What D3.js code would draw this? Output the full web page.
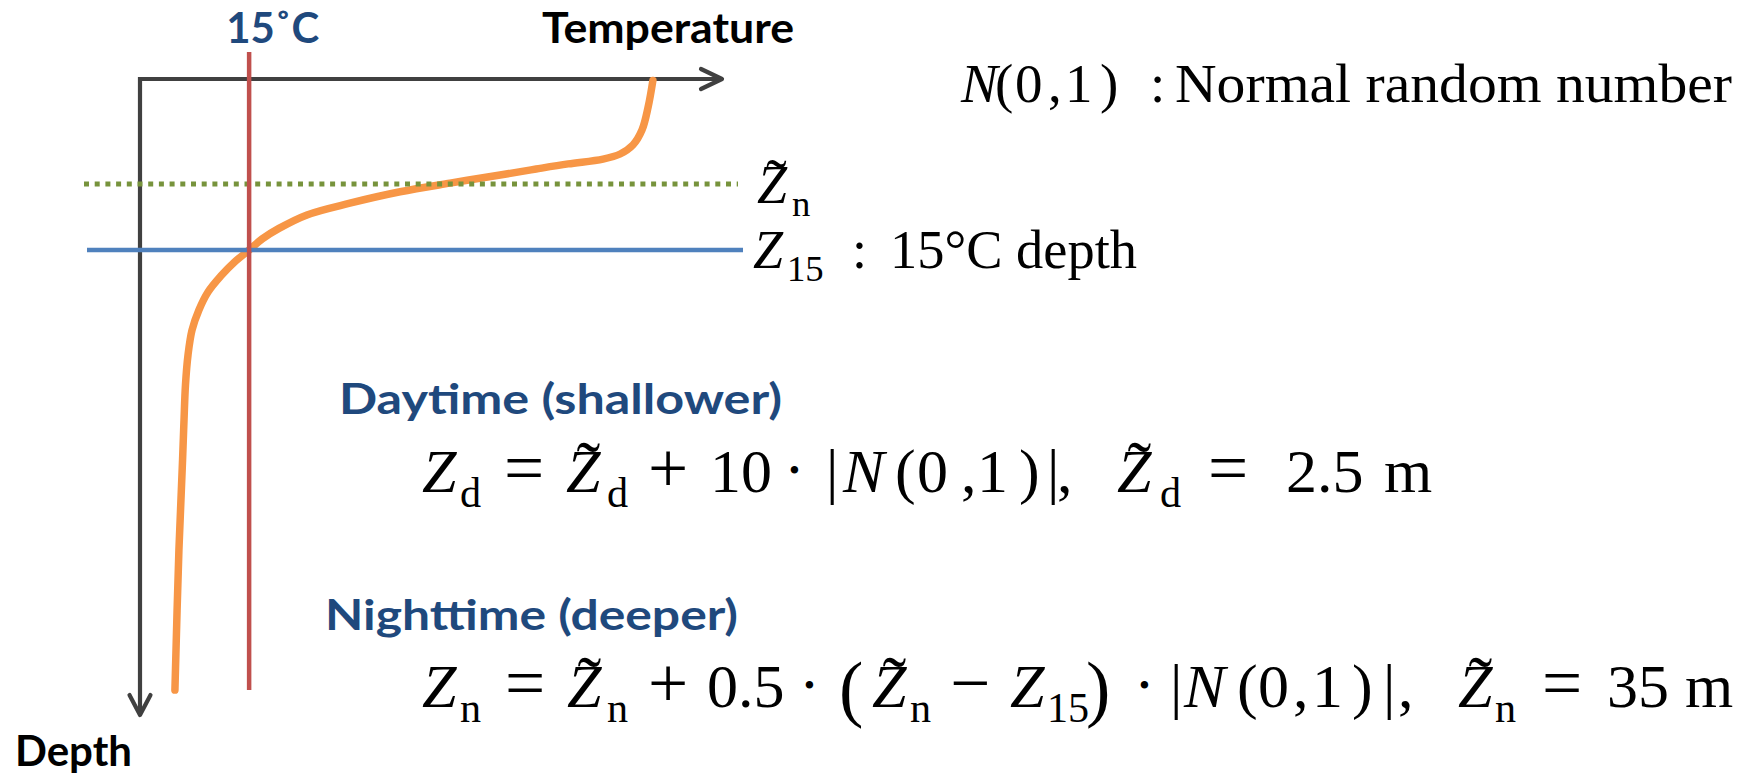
<!DOCTYPE html>
<html>
<head>
<meta charset="utf-8">
<script src="https://cdn.jsdelivr.net/npm/d3@7"></script>
<style>
  body { margin: 0; background: #fff; }
  svg { display: block; background: #fff; }
  .sans { font-family: Lato, "Open Sans", sans-serif; font-weight: 700; }
  .math { font-family: "Liberation Serif", "DejaVu Serif", serif; fill: #000; }
</style>
</head>
<body>
<svg id="chart" width="1758" height="775"></svg>
<script>
// Schematic temperature profile (depth in m, temperature in degC)
const profileDepth = [0.5, 9.3, 17.0, 22.0, 25.0, 26.7, 28.3, 30.0, 32.0, 34.7, 37.6, 41.4, 45.3, 49.8, 53.3, 57.0, 61.0, 65.7, 71.0, 77.0, 83.7, 92.0, 102.0, 113.7, 127.0, 157.0, 203.7];
const profileTemp = [26.10, 25.97, 25.80, 25.55, 25.20, 24.73, 23.77, 22.89, 21.90, 20.52, 19.15, 17.77, 16.59, 15.82, 15.36, 15.0, 14.60, 14.22, 13.87, 13.62, 13.43, 13.32, 13.25, 13.21, 13.17, 13.07, 12.96];

// reference levels
const refTemp = 15;      // 15 degC isotherm
const zNight = 35;       // Z~n
const z15 = 57;          // depth of 15 degC
const redSpan = [-9, 203.7];

const tempDomain = [12, 28];
const depthDomain = [0, 212];

const svg = d3.select("#chart");

const x = d3.scaleLinear().domain(tempDomain).range([140, 722]);
const y = d3.scaleLinear().domain(depthDomain).range([79, 715]);

const axisColor = "#404040";
const darkBlue = "#1F497D";

// axes with open arrow heads
const gAxes = svg.append("g");
gAxes.append("path")
  .attr("d", d3.line()([[x(tempDomain[0]), y(depthDomain[1]) - 2], [x(tempDomain[0]), y(0)], [x(tempDomain[1]) - 2, y(0)]]))
  .attr("fill", "none").attr("stroke", axisColor).attr("stroke-width", 4.2);
gAxes.append("path")
  .attr("d", d3.line()([[x(tempDomain[1]) - 21, y(0) - 10], [x(tempDomain[1]), y(0)], [x(tempDomain[1]) - 21, y(0) + 10]]))
  .attr("fill", "none").attr("stroke", axisColor).attr("stroke-width", 4.2)
  .attr("stroke-linecap", "round").attr("stroke-linejoin", "round");
gAxes.append("path")
  .attr("d", d3.line()([[x(tempDomain[0]) - 10.5, y(depthDomain[1]) - 20], [x(tempDomain[0]), y(depthDomain[1])], [x(tempDomain[0]) + 10.5, y(depthDomain[1]) - 20]]))
  .attr("fill", "none").attr("stroke", axisColor).attr("stroke-width", 4.2)
  .attr("stroke-linecap", "round").attr("stroke-linejoin", "round");

// temperature profile
const profile = profileDepth.map((d, i) => ({ depth: d, temp: profileTemp[i] }));
svg.append("path")
  .datum(profile)
  .attr("d", d3.line().x(d => x(d.temp)).y(d => y(d.depth)).curve(d3.curveCatmullRom.alpha(0.5)))
  .attr("fill", "none").attr("stroke", "#F79646").attr("stroke-width", 7.5)
  .attr("stroke-linecap", "round").attr("stroke-linejoin", "round");

// Z15 line
svg.append("line")
  .attr("x1", 87).attr("x2", 743).attr("y1", y(z15)).attr("y2", y(z15))
  .attr("stroke", "#4F81BD").attr("stroke-width", 4.5);

// Z~n dotted line
svg.append("line")
  .attr("x1", 84).attr("x2", 738).attr("y1", y(zNight)).attr("y2", y(zNight))
  .attr("stroke", "#77933C").attr("stroke-width", 4.8)
  .attr("stroke-dasharray", "5,5.7");

// 15 degC isotherm
svg.append("line")
  .attr("x1", x(refTemp)).attr("x2", x(refTemp)).attr("y1", y(redSpan[0])).attr("y2", y(redSpan[1]))
  .attr("stroke", "#C0504D").attr("stroke-width", 4.5);

// bold labels
function label(text, x0, base, width, color) {
  svg.append("text").attr("class", "sans")
    .attr("x", x0).attr("y", base)
    .attr("font-size", 42)
    .attr("fill", color)
    .attr("textLength", width).attr("lengthAdjust", "spacingAndGlyphs")
    .text(text);
}
label("15˚C", x(refTemp) - 23, 43, 93, darkBlue);
label("Temperature", 542, 43, 252, "#000");
label("Depth", 15, 766, 117, "#000");
label("Daytime (shallower)", 339, 414, 443, darkBlue);
label("Nighttime (deeper)", 325, 630, 413, darkBlue);

// math pieces: it = italic, rm = upright, sub = subscript, op = operator, big = tall bracket, dot = product dot
function drawMath(tokens, base, size) {
  const t = svg.append("text").attr("class", "math").attr("font-size", size);
  tokens.forEach(tk => {
    if (tk.w) {
      svg.append("text").attr("class", "math")
        .attr("x", tk.x).attr("y", base).attr("font-size", size)
        .attr("textLength", tk.w).attr("lengthAdjust", "spacingAndGlyphs")
        .text(tk.t);
      return;
    }
    const s = t.append("tspan").attr("x", tk.x).text(tk.t);
    if (tk.k === "sub") {
      s.attr("y", base + size * 0.245).attr("font-size", size * 0.68);
    } else if (tk.k === "big") {
      s.attr("y", base + size * 0.1).attr("font-size", size * 1.18);
    } else if (tk.k === "op") {
      s.attr("y", base).attr("font-size", size * 1.15);
    } else if (tk.k === "dot") {
      s.attr("y", base - size * 0.17).attr("font-size", size * 0.5);
    } else {
      s.attr("y", base).attr("font-size", size);
      if (tk.k === "it") s.attr("font-style", "italic");
    }
    if (tk.tilde) {
      t.append("tspan")
        .attr("x", tk.x + size * 0.36).attr("y", base - size * 0.02)
        .attr("font-size", size * 1.15).attr("text-anchor", "middle")
        .text("˜");
    }
  });
}

// N(0,1) : Normal random number
drawMath([
  { t: "N", x: 961, k: "it" }, { t: "(", x: 995, k: "rm" }, { t: "0", x: 1015, k: "rm" },
  { t: ",", x: 1048, k: "rm" }, { t: "1", x: 1065, k: "rm" }, { t: ")", x: 1100, k: "rm" },
  { t: ":", x: 1150, k: "rm" },
  { t: "Normal random number", x: 1175, k: "rm", w: 557 }
], 102, 55);

// line labels
drawMath([
  { t: "Z", x: 757, k: "it", tilde: true }, { t: "n", x: 792, k: "sub" }
], 203, 54);
drawMath([
  { t: "Z", x: 753, k: "it" }, { t: "15", x: 787, k: "sub" },
  { t: ":", x: 852, k: "rm" },
  { t: "15°C depth", x: 890, k: "rm", w: 247 }
], 268, 54);

// daytime formula
drawMath([
  { t: "Z", x: 422, k: "it" }, { t: "d", x: 460, k: "sub" },
  { t: "=", x: 504, k: "op" },
  { t: "Z", x: 566, k: "it", tilde: true }, { t: "d", x: 607, k: "sub" },
  { t: "+", x: 648, k: "op" },
  { t: "10", x: 710, k: "rm" },
  { t: "•", x: 789, k: "dot" },
  { t: "|", x: 826, k: "rm" },
  { t: "N", x: 843, k: "it" },
  { t: "(", x: 895, k: "rm" }, { t: "0", x: 917, k: "rm" }, { t: ",", x: 961, k: "rm" },
  { t: "1", x: 977, k: "rm" }, { t: ")", x: 1019, k: "rm" },
  { t: "|", x: 1047, k: "rm" }, { t: ",", x: 1057, k: "rm" },
  { t: "Z", x: 1117, k: "it", tilde: true }, { t: "d", x: 1160, k: "sub" },
  { t: "=", x: 1208, k: "op" },
  { t: "2.5", x: 1286, k: "rm" },
  { t: "m", x: 1384, k: "rm" }
], 492, 62);

// nighttime formula
drawMath([
  { t: "Z", x: 422, k: "it" }, { t: "n", x: 460, k: "sub" },
  { t: "=", x: 505, k: "op" },
  { t: "Z", x: 567, k: "it", tilde: true }, { t: "n", x: 607, k: "sub" },
  { t: "+", x: 648, k: "op" },
  { t: "0.5", x: 707, k: "rm" },
  { t: "•", x: 804, k: "dot" },
  { t: "(", x: 839, k: "big" },
  { t: "Z", x: 872, k: "it", tilde: true }, { t: "n", x: 910, k: "sub" },
  { t: "−", x: 950, k: "op" },
  { t: "Z", x: 1010, k: "it" }, { t: "15", x: 1047, k: "sub" },
  { t: ")", x: 1086, k: "big" },
  { t: "•", x: 1139, k: "dot" },
  { t: "|", x: 1170, k: "rm" },
  { t: "N", x: 1184, k: "it" },
  { t: "(", x: 1237, k: "rm" }, { t: "0", x: 1258, k: "rm" }, { t: ",", x: 1293, k: "rm" },
  { t: "1", x: 1312, k: "rm" }, { t: ")", x: 1352, k: "rm" },
  { t: "|", x: 1383, k: "rm" }, { t: ",", x: 1398, k: "rm" },
  { t: "Z", x: 1458, k: "it", tilde: true }, { t: "n", x: 1495, k: "sub" },
  { t: "=", x: 1542, k: "op" },
  { t: "35", x: 1607, k: "rm" },
  { t: "m", x: 1685, k: "rm" }
], 707, 62);
</script>
</body>
</html>
